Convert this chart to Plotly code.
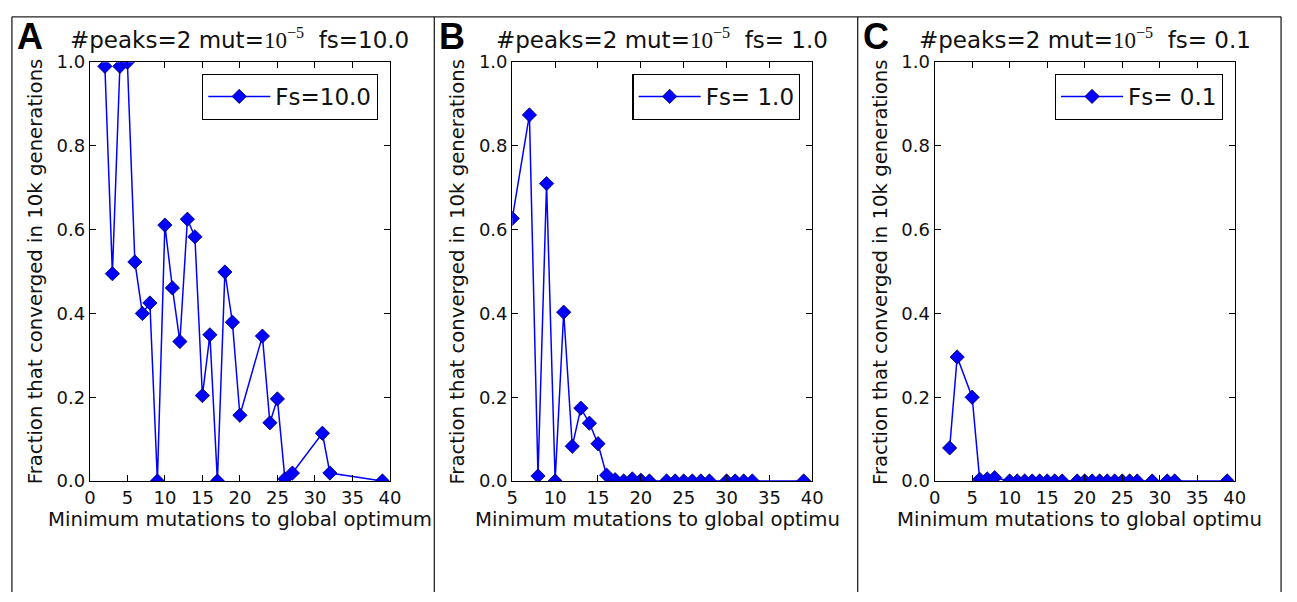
import plotly.graph_objects as go

# ---------------- data ----------------
a_x = [2, 3, 4, 5, 6, 7, 8, 9, 10, 11, 12, 13, 14, 15, 16, 17, 18, 19, 20, 23, 24, 25, 26, 27, 31, 32, 39]
a_y = [0.99, 0.495, 0.99, 1.0, 0.523, 0.40, 0.425, 0.0, 0.611, 0.461, 0.333, 0.625, 0.583, 0.204, 0.349, 0.0,
       0.499, 0.379, 0.157, 0.346, 0.139, 0.196, 0.005, 0.019, 0.114, 0.019, 0.0]

b_x = [5, 7, 8, 9, 10, 11, 12, 13, 14, 15, 16, 17, 18, 19, 20, 21, 23, 24, 25, 26, 27, 28, 30, 31, 32, 33, 39]
b_y = [0.627, 0.874, 0.012, 0.71, 0.0, 0.403, 0.083, 0.174, 0.138, 0.089, 0.014, 0.003, 0.0, 0.005, 0.002, 0.0,
       0.0, 0.0, 0.0, 0.0, 0.0, 0.0, 0.0, 0.0, 0.0, 0.0, 0.0]

c_x = [2, 3, 5, 6, 7, 8, 10, 11, 12, 13, 14, 15, 16, 17, 19, 20, 21, 22, 23, 24, 25, 26, 27, 29, 31, 32, 39]
c_y = [0.079, 0.296, 0.2, 0.004, 0.005, 0.008, 0.0, 0.0, 0.0, 0.0, 0.0, 0.0, 0.0, 0.0, 0.0, 0.0, 0.0, 0.0,
       0.0, 0.0, 0.0, 0.0, 0.0, 0.0, 0.0, 0.0, 0.0]

panel_letters = ["A", "B", "C"]
fs_values = ["10.0", " 1.0", " 0.1"]
legend_names = ["Fs=10.0", "Fs= 1.0", "Fs= 0.1"]
x_ranges = [[0, 40], [5, 40], [0, 40]]
x_ticks = [list(range(0, 41, 5)), list(range(5, 41, 5)), list(range(0, 41, 5))]
y_ticks = [0.0, 0.2, 0.4, 0.6, 0.8, 1.0]
xlabel_full = "Minimum mutations to global optimum"
xlabels = [xlabel_full, "Minimum mutations to global optimu", "Minimum mutations to global optimu"]
ylabel = "Fraction that converged in 10k generations"

series = [(a_x, a_y), (b_x, b_y), (c_x, c_y)]

# ---------------- layout helpers ----------------
W, H = 1297, 602
def px(x):
    return x / W
def py(y):
    return 1 - y / H

axis_left = [85, 513, 941]
axis_w = 304
axis_top, axis_bot = 53, 487
panel_left = [6, 434, 863]

FONT = "DejaVu Sans"
fig = go.Figure()

legend_keys = ["legend", "legend2", "legend3"]
for i, (xs, ys) in enumerate(series):
    xa = "x" if i == 0 else f"x{i+1}"
    ya = "y" if i == 0 else f"y{i+1}"
    fig.add_trace(go.Scatter(
        x=xs, y=ys, mode="lines+markers", name=legend_names[i],
        xaxis=xa, yaxis=ya, legend=legend_keys[i],
        line=dict(color="#0000ff", width=1.5),
        marker=dict(symbol="diamond", size=11, color="#0000ff",
                    line=dict(color="#000060", width=0.8)),
        cliponaxis=True, showlegend=True,
    ))

layout = dict(
    width=W, height=H,
    margin=dict(l=0, r=0, t=0, b=0),
    paper_bgcolor="white", plot_bgcolor="white",
    font=dict(family=FONT, color="black", size=18),
    showlegend=True,
)

for i in range(3):
    sfx = "" if i == 0 else str(i + 1)
    l = axis_left[i]
    layout["xaxis" + sfx] = dict(
        domain=[px(l), px(l + axis_w)], range=x_ranges[i],
        anchor="y" + sfx, tickvals=x_ticks[i], ticks="inside", ticklen=6,
        tickcolor="black", showline=True, linecolor="black", linewidth=1.2,
        mirror="allticks", showgrid=False, zeroline=False,
        tickfont=dict(family=FONT, size=18, color="#111"),
    )
    layout["yaxis" + sfx] = dict(
        domain=[py(axis_bot), py(axis_top)], range=[0, 1],
        anchor="x" + sfx, tickvals=y_ticks, tickformat=".1f", ticks="inside", ticklen=6,
        tickcolor="black", showline=True, linecolor="black", linewidth=1.2,
        mirror="allticks", showgrid=False, zeroline=False,
        tickfont=dict(family=FONT, size=18, color="#111"),
    )
    layout[legend_keys[i]] = dict(
        x=px(l + axis_w - 12), y=py(axis_top + 12), xanchor="right", yanchor="top",
        bordercolor="black", borderwidth=1.2, bgcolor="white",
        font=dict(family=FONT, size=23, color="#111"), itemwidth=62,
        tracegroupgap=0,
    )

fig.update_layout(**layout)

annotations = []
shapes = []
for i in range(3):
    l = axis_left[i]
    cx = l + axis_w / 2
    # panel letter
    annotations.append(dict(
        text=f"<b>{panel_letters[i]}</b>", x=px(panel_left[i] + 3), y=py(26),
        xref="paper", yref="paper", xanchor="left", yanchor="middle", showarrow=False,
        font=dict(family="Liberation Sans", size=36, color="black"),
    ))
    # title
    annotations.append(dict(
        text=("#peaks=2 mut=<span style='font-family:Liberation Serif'>10<sup>\u22125</sup></span>"
              f"  fs={fs_values[i]}"),
        x=px(cx), y=py(46), xref="paper", yref="paper", xanchor="center", yanchor="bottom",
        showarrow=False, font=dict(family=FONT, size=23, color="#111"),
    ))
    # x label
    if i == 0:
        annotations.append(dict(
            text=xlabels[i], x=px(cx), y=py(513), xref="paper", yref="paper",
            xanchor="center", yanchor="top", showarrow=False,
            font=dict(family=FONT, size=19.7, color="#111"),
        ))
    else:
        annotations.append(dict(
            text=xlabels[i], x=px(cx - 192), y=py(513), xref="paper", yref="paper",
            xanchor="left", yanchor="top", showarrow=False,
            font=dict(family=FONT, size=19.7, color="#111"),
        ))
    # y label
    annotations.append(dict(
        text=ylabel, x=px(l - 55), y=py((axis_top + axis_bot) / 2), xref="paper", yref="paper",
        xanchor="center", yanchor="middle", textangle=-90, showarrow=False,
        font=dict(family=FONT, size=19.7, color="#111"),
    ))

# panel frame lines
for xline in [6, 434, 863, 1292]:
    shapes.append(dict(type="line", xref="paper", yref="paper",
                       x0=px(xline), x1=px(xline), y0=py(6), y1=0,
                       line=dict(color="#222", width=1.3)))
shapes.append(dict(type="line", xref="paper", yref="paper",
                   x0=px(6), x1=px(1292), y0=py(6), y1=py(6),
                   line=dict(color="#222", width=1.3)))

fig.update_layout(annotations=annotations, shapes=shapes)

fig.write_html(
    "out.html",
    config={"displayModeBar": False},
    post_script="document.body.style.margin='0';document.body.style.padding='0';"
                "document.documentElement.style.overflow='hidden';",
)
